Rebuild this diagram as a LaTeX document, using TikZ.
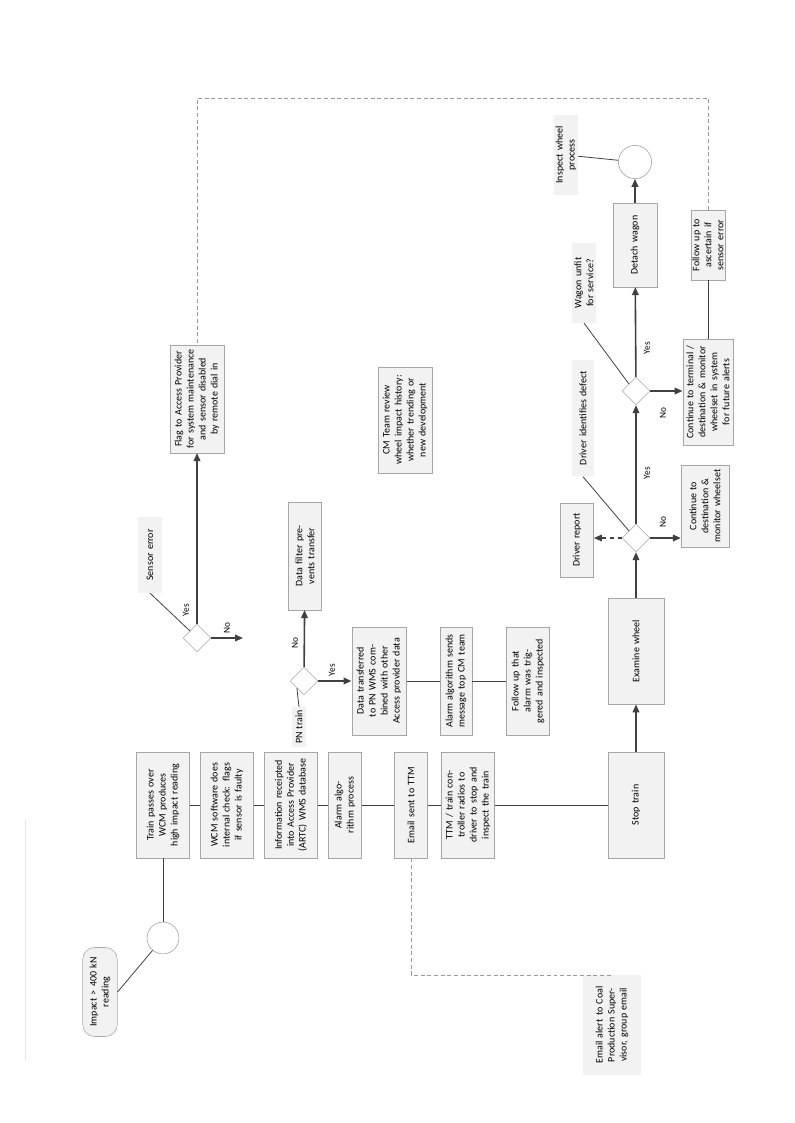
\documentclass[tikz,border=0pt]{standalone}
\usepackage{fontspec}
\setmainfont{Carlito}
\usetikzlibrary{shapes.geometric,arrows.meta}
\tikzset{
 bx/.style={rotate=90,draw=black!35,fill=black!5,align=center,font=\fontsize{7.5}{9}\selectfont,inner sep=1pt},
 ann/.style={rotate=90,draw=none,fill=black!5,align=center,font=\fontsize{7.5}{9}\selectfont,inner sep=1pt},
 dia/.style={diamond,draw=black!35,fill=white,minimum size=21pt,inner sep=0pt},
 circ/.style={circle,draw=black!40,fill=white,inner sep=0pt},
 ln/.style={draw=black!75,line width=0.6pt},
 arr/.style={draw=black!75,line width=1.2pt,-{Triangle[length=6pt,width=5pt]}},
 lbl/.style={rotate=90,font=\fontsize{7}{8}\selectfont,inner sep=1pt},
}
\begin{document}
\begin{tikzpicture}[x=0.026458cm,y=-0.026458cm]
\useasboundingbox (0,0) rectangle (794,1123);
\draw[black!10] (25,820) -- (25,1060);
% left column
\node[bx,rounded corners=9pt,minimum width=67pt,minimum height=26pt,text width=60pt] (imp) at (100,992) {Impact > 400 kN\\reading};
\node[circ,minimum size=24pt] (c1) at (163,938) {};
\node[bx,minimum width=80pt,minimum height=40pt,text width=74pt] (b1) at (163,805) {Train passes over WCM produces high impact reading};
\node[bx,minimum width=80pt,minimum height=40pt,text width=70pt] (b2) at (227,805) {WCM software does internal check: flags if sensor is faulty};
\node[bx,minimum width=80pt,minimum height=40pt,text width=70pt] (b3) at (291,805) {Information receipted into Access Provider (ARTC) WMS database};
\node[bx,minimum width=80pt,minimum height=25pt,text width=74pt] (b4) at (345,805) {Alarm algorithm process};
\node[bx,minimum width=80pt,minimum height=25pt,text width=74pt] (b5) at (411,805) {Email sent to TTM};
\node[bx,minimum width=80pt,minimum height=40pt,text width=72pt] (b6) at (468,805) {TTM / train controller radios to driver to stop and inspect the train};
\node[bx,minimum width=80pt,minimum height=42pt,text width=74pt] (b7) at (636,805) {Stop train};
\node[bx,minimum width=80pt,minimum height=42pt,text width=74pt] (b8) at (636,651) {Examine wheel};
\node[ann,minimum width=75pt,minimum height=43pt,text width=72pt] (a6) at (612,1025) {Email alert to Coal Production Supervisor, group email};
% right area
\node[dia] (d1) at (636,538) {};
\node[dia] (d2) at (636,391) {};
\node[bx,minimum width=56pt,minimum height=25pt,text width=52pt] (dr) at (577,540) {Driver report};
\node[ann,minimum width=88pt,minimum height=16pt,text width=85pt] (a1) at (583,418) {Driver identifies defect};
\node[bx,minimum width=62pt,minimum height=36pt,text width=60pt] (cd) at (705,506) {Continue to destination \& monitor wheelset};
\node[ann,minimum width=60pt,minimum height=18pt,text width=58pt] (a2) at (584,283) {Wagon unfit for service?};
\node[bx,minimum width=80pt,minimum height=38pt,text width=72pt] (ct) at (708,392) {Continue to terminal / destination \& monitor wheelset in system for future alerts};
\node[bx,minimum width=63pt,minimum height=33pt,text width=60pt] (dw) at (635,245) {Detach wagon};
\node[circ,minimum size=25pt] (c2) at (635,162) {};
\node[ann,minimum width=60pt,minimum height=18pt,text width=58pt] (a3) at (566,155) {Inspect wheel process};
\node[bx,minimum width=53pt,minimum height=25pt,text width=50pt] (fu) at (708,245) {Follow up to ascertain if sensor error};
\node[bx,minimum width=81pt,minimum height=41pt,text width=76pt] (flag) at (197,399) {Flag to Access Provider for system maintenance and sensor disabled by remote dial in};
\node[dia] (d3) at (197,638) {};
\node[ann,minimum width=57pt,minimum height=18pt,text width=55pt] (a4) at (150,555) {Sensor error};
\node[bx,minimum width=81pt,minimum height=25pt,text width=76pt] (df) at (305,556) {Data filter prevents transfer};
\node[dia] (d4) at (304,681) {};
\node[ann,minimum width=29pt,minimum height=10pt,text width=28pt] (a5) at (299,727) {PN train};
\node[bx,minimum width=81pt,minimum height=41pt,text width=74pt] (dt) at (379,681) {Data transferred to PN WMS combined with other Access provider data};
\node[bx,minimum width=81pt,minimum height=24pt,text width=74pt] (as) at (456,681) {Alarm algorithm sends message top CM team};
\node[bx,minimum width=81pt,minimum height=32pt,text width=74pt] (fa) at (528,681) {Follow up that alarm was triggered and inspected};
\node[bx,minimum width=80pt,minimum height=41pt,text width=74pt] (cm) at (405,420) {CM Team review wheel impact history: whether trending or new development};
\coordinate (d3no) at (243,638);
\coordinate (tr) at (708,98);
\coordinate (tl) at (197,98);
% connectors
\draw[ln] (imp.south) -- (c1);
\draw[ln] (c1) -- (b1);
\draw[ln] (b1) -- (b2); \draw[ln] (b2) -- (b3); \draw[ln] (b3) -- (b4);
\draw[ln] (b4) -- (b5); \draw[ln] (b5) -- (b6); \draw[ln] (b6) -- (b7);
\draw[arr] (b7) -- (b8);
\draw[arr] (b8) -- (d1);
\draw[arr] (d1) -- (d2);
\draw[arr] (d2) -- (dw);
\draw[arr] (dw) -- (c2);
\draw[ln] (c2) -- (a3);
\draw[arr] (d1.east) -- (cd.north |- d1.east);
\draw[arr,dashed,line width=0.9pt] (d1.west) -- (dr.south |- d1.west);
\draw[ln] (a1.west) -- (d1.north west);
\draw[arr] (d2.east) -- (ct.north |- d2.east);
\draw[ln] (a2.west) -- (d2.north west);
\draw[ln] (ct) -- (fu);
\draw[black!40,densely dashed,line width=0.4pt] (fu.east) -- (tr) -- (tl) -- (flag.east);
\draw[black!40,densely dashed,line width=0.4pt] (b5.west) |- (a6.east);
\draw[arr] (d3) -- (flag);
\draw[arr] (d3.east) -- (d3no);
\draw[ln] (a4.west) -- (d3.north west);
\draw[arr] (d4) -- (df);
\draw[arr] (d4.east) -- (dt.north |- d4.east);
\draw[ln] (dt) -- (as); \draw[ln] (as) -- (fa);
\draw[ln] (a5.east) -- (d4.south west);
% labels
\node[lbl] (l1) at (186,610) {Yes};
\node[lbl] (l2) at (227,628) {No};
\node[lbl] (l3) at (295,643) {No};
\node[lbl] (l4) at (332,670) {Yes};
\node[lbl] (l5) at (647,473) {Yes};
\node[lbl] (l6) at (663,522) {No};
\node[lbl] (l7) at (647,348) {Yes};
\node[lbl] (l8) at (663,413) {No};
\end{tikzpicture}
\end{document}
